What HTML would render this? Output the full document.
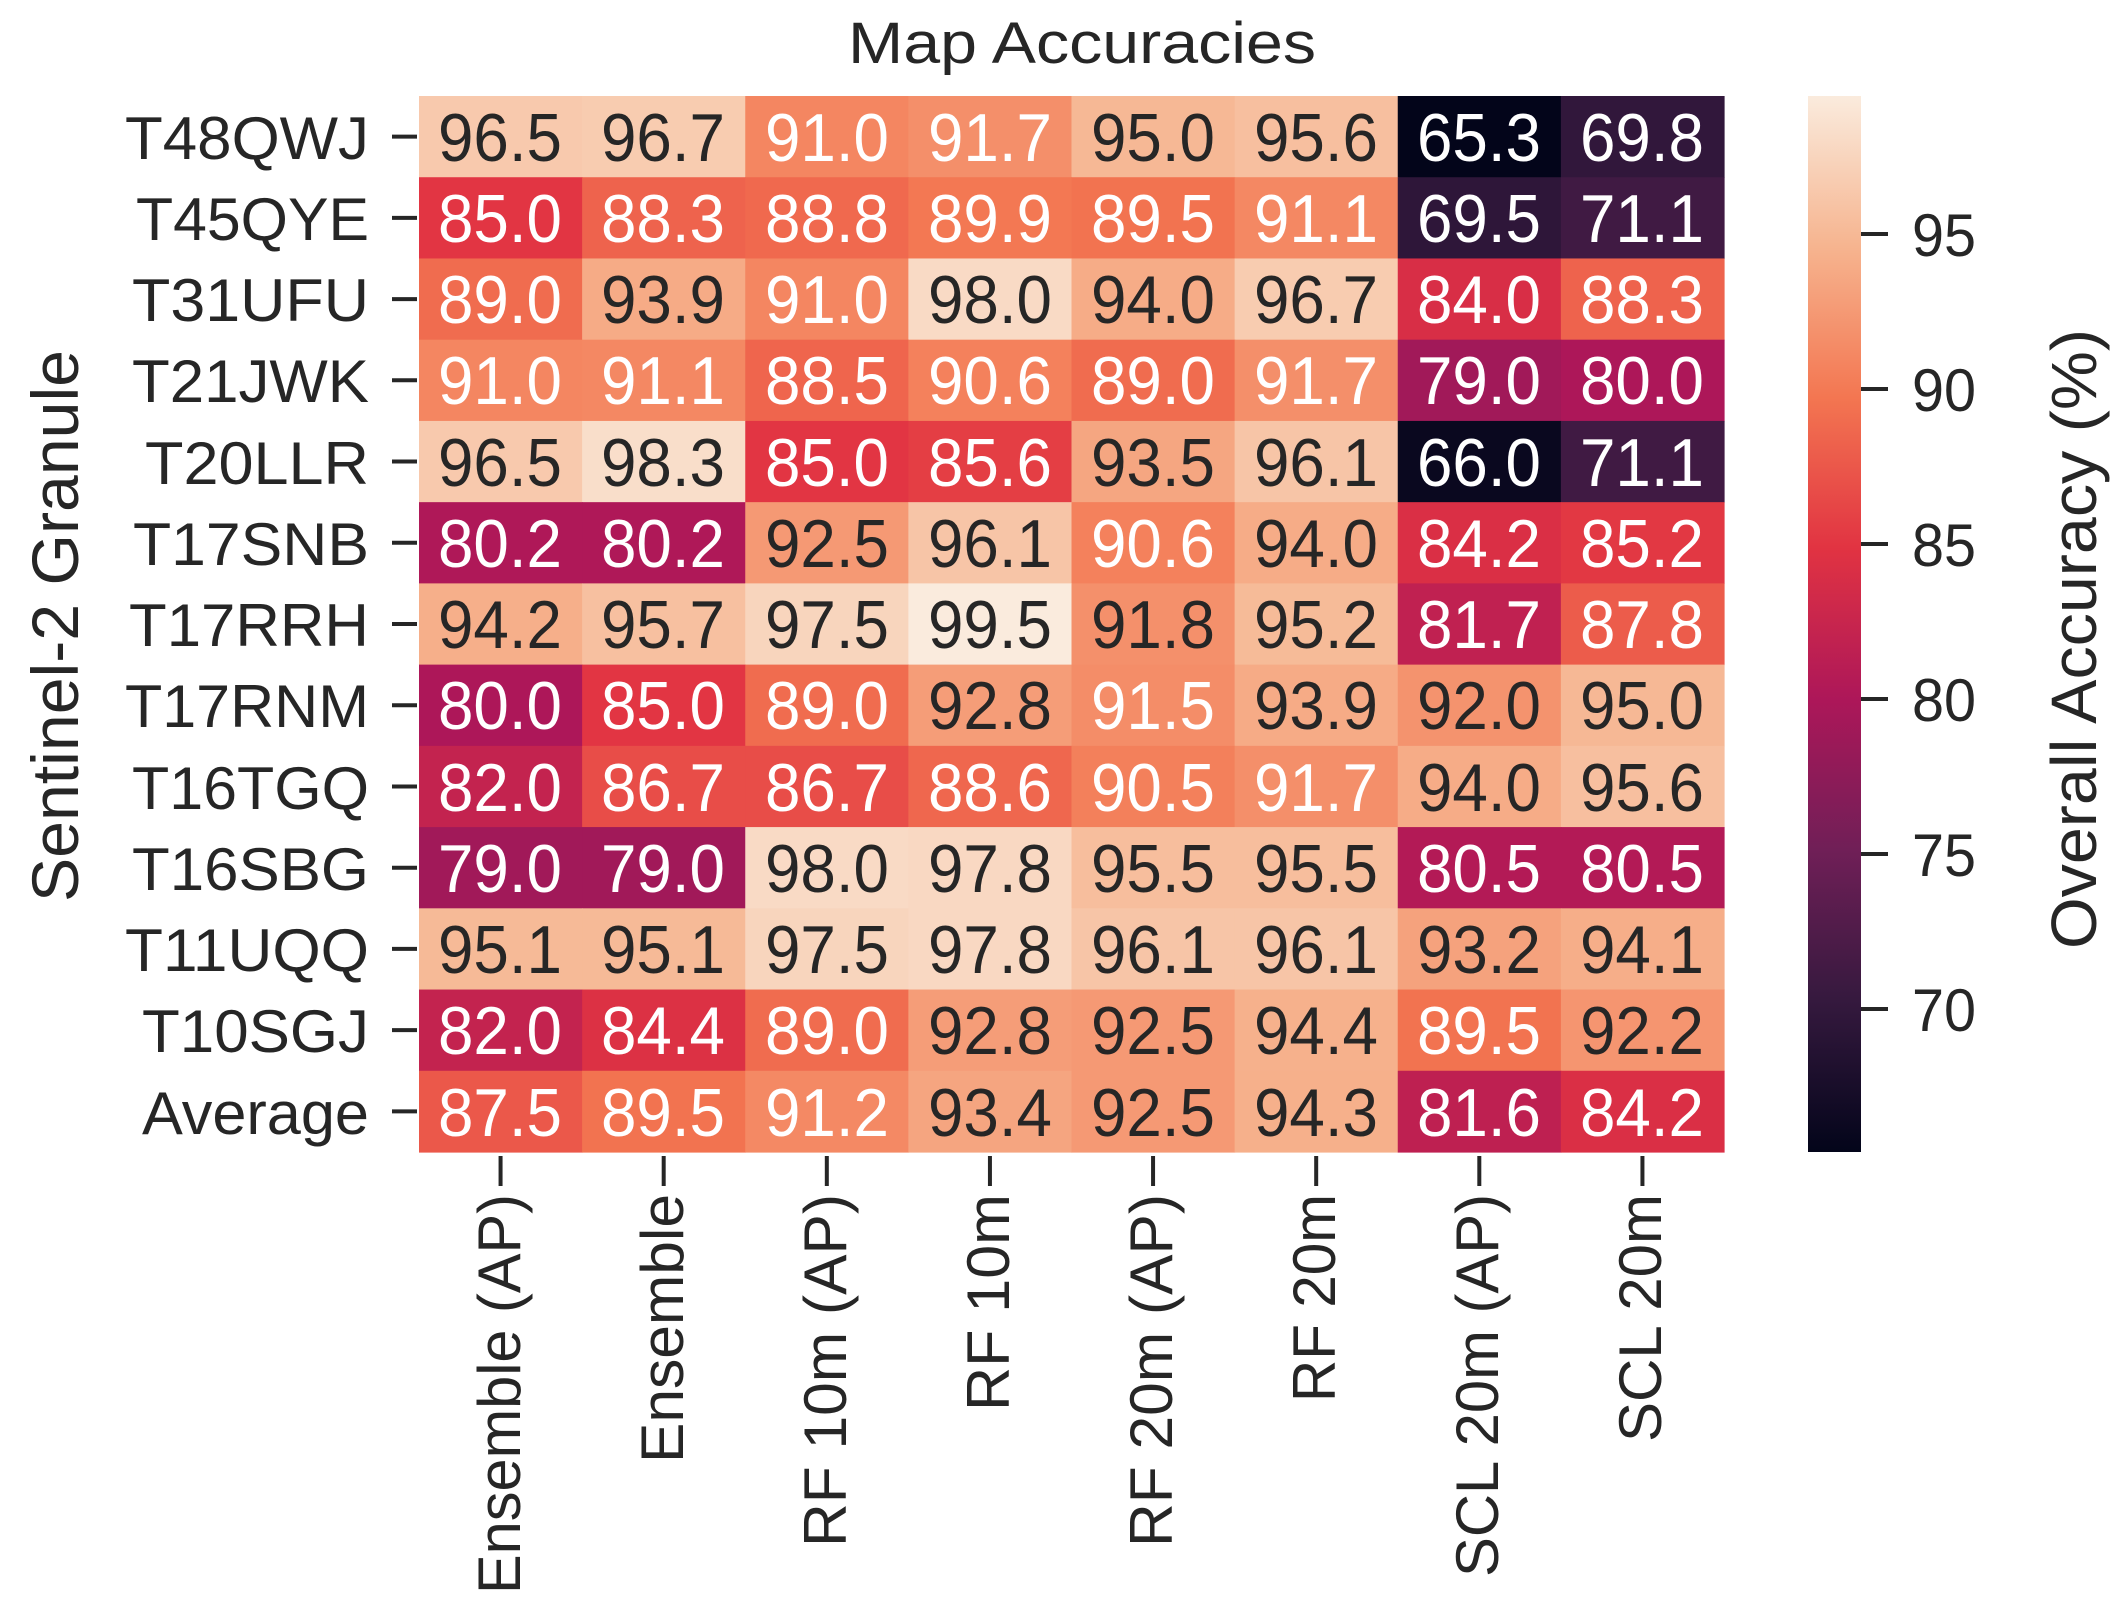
<!DOCTYPE html>
<html><head><meta charset="utf-8"><style>
html,body{margin:0;padding:0;background:#fff;}
svg{display:block;}
text{font-family:"Liberation Sans",Arial,sans-serif;fill:#262626;}
.k{fill:#262626}.w{fill:#ffffff}
</style></head><body>
<svg id="s" width="2123" height="1618" viewBox="0 0 2123 1618" xmlns="http://www.w3.org/2000/svg">
<defs>
<linearGradient id="cb" x1="0" y1="1" x2="0" y2="0">
<stop offset="0" stop-color="#03051a"/>
<stop offset="0.143" stop-color="#35193e"/>
<stop offset="0.286" stop-color="#701f57"/>
<stop offset="0.429" stop-color="#ad1759"/>
<stop offset="0.571" stop-color="#e13342"/>
<stop offset="0.714" stop-color="#f37651"/>
<stop offset="0.857" stop-color="#f6b48f"/>
<stop offset="1" stop-color="#faebdd"/>
</linearGradient>
</defs>
<g id="cells"></g>
<text x="1082" y="63" font-size="58" text-anchor="middle" textLength="468" lengthAdjust="spacingAndGlyphs">Map Accuracies</text>
<text transform="translate(78,626) rotate(-90)" font-size="66" text-anchor="middle" textLength="552" lengthAdjust="spacingAndGlyphs">Sentinel-2 Granule</text>
<text transform="translate(2096,639) rotate(-90)" font-size="64" text-anchor="middle" textLength="620" lengthAdjust="spacingAndGlyphs">Overall Accuracy (%)</text>
<rect x="1808" y="96" width="53" height="1056" fill="url(#cb)"/>
<g stroke="#262626" stroke-width="4">
<line x1="1861" y1="234" x2="1888" y2="234"/><line x1="1861" y1="389" x2="1888" y2="389"/><line x1="1861" y1="544" x2="1888" y2="544"/><line x1="1861" y1="699" x2="1888" y2="699"/><line x1="1861" y1="854" x2="1888" y2="854"/><line x1="1861" y1="1009" x2="1888" y2="1009"/>
</g>
<g font-size="60">
<text x="1912" y="256" textLength="64" lengthAdjust="spacingAndGlyphs">95</text><text x="1912" y="411" textLength="64" lengthAdjust="spacingAndGlyphs">90</text><text x="1912" y="566" textLength="64" lengthAdjust="spacingAndGlyphs">85</text><text x="1912" y="721" textLength="64" lengthAdjust="spacingAndGlyphs">80</text><text x="1912" y="876" textLength="64" lengthAdjust="spacingAndGlyphs">75</text><text x="1912" y="1031" textLength="64" lengthAdjust="spacingAndGlyphs">70</text>
</g>
<g id="ticks" stroke="#262626" stroke-width="4"></g>
<g font-size="60" text-anchor="end">
<text x="369" y="159" textLength="244" lengthAdjust="spacingAndGlyphs">T48QWJ</text>
<text x="369" y="240" textLength="233" lengthAdjust="spacingAndGlyphs">T45QYE</text>
<text x="369" y="321" textLength="237" lengthAdjust="spacingAndGlyphs">T31UFU</text>
<text x="369" y="402" textLength="237" lengthAdjust="spacingAndGlyphs">T21JWK</text>
<text x="369" y="484" textLength="224" lengthAdjust="spacingAndGlyphs">T20LLR</text>
<text x="369" y="565" textLength="236" lengthAdjust="spacingAndGlyphs">T17SNB</text>
<text x="369" y="646" textLength="240" lengthAdjust="spacingAndGlyphs">T17RRH</text>
<text x="369" y="727" textLength="244" lengthAdjust="spacingAndGlyphs">T17RNM</text>
<text x="369" y="809" textLength="237" lengthAdjust="spacingAndGlyphs">T16TGQ</text>
<text x="369" y="890" textLength="237" lengthAdjust="spacingAndGlyphs">T16SBG</text>
<text x="369" y="971" textLength="244" lengthAdjust="spacingAndGlyphs">T11UQQ</text>
<text x="369" y="1052" textLength="227" lengthAdjust="spacingAndGlyphs">T10SGJ</text>
<text x="369" y="1134" textLength="227" lengthAdjust="spacingAndGlyphs">Average</text>
</g>
<g font-size="60" text-anchor="end">
<text transform="translate(520,1194) rotate(-90)" textLength="400" lengthAdjust="spacingAndGlyphs">Ensemble (AP)</text>
<text transform="translate(683,1194) rotate(-90)" textLength="269" lengthAdjust="spacingAndGlyphs">Ensemble</text>
<text transform="translate(846,1194) rotate(-90)" textLength="353" lengthAdjust="spacingAndGlyphs">RF 10m (AP)</text>
<text transform="translate(1009,1194) rotate(-90)" textLength="217" lengthAdjust="spacingAndGlyphs">RF 10m</text>
<text transform="translate(1172,1194) rotate(-90)" textLength="353" lengthAdjust="spacingAndGlyphs">RF 20m (AP)</text>
<text transform="translate(1335,1194) rotate(-90)" textLength="208" lengthAdjust="spacingAndGlyphs">RF 20m</text>
<text transform="translate(1498,1194) rotate(-90)" textLength="383" lengthAdjust="spacingAndGlyphs">SCL 20m (AP)</text>
<text transform="translate(1661,1194) rotate(-90)" textLength="248" lengthAdjust="spacingAndGlyphs">SCL 20m</text>
</g>
<g font-size="68" text-anchor="middle" transform="translate(0,2)">
<text x="500" y="159" class="k" textLength="124" lengthAdjust="spacingAndGlyphs">96.5</text><text x="663" y="159" class="k" textLength="124" lengthAdjust="spacingAndGlyphs">96.7</text><text x="827" y="159" class="w" textLength="124" lengthAdjust="spacingAndGlyphs">91.0</text><text x="990" y="159" class="w" textLength="124" lengthAdjust="spacingAndGlyphs">91.7</text><text x="1153" y="159" class="k" textLength="124" lengthAdjust="spacingAndGlyphs">95.0</text><text x="1316" y="159" class="k" textLength="124" lengthAdjust="spacingAndGlyphs">95.6</text><text x="1479" y="159" class="w" textLength="124" lengthAdjust="spacingAndGlyphs">65.3</text><text x="1642" y="159" class="w" textLength="124" lengthAdjust="spacingAndGlyphs">69.8</text>
<text x="500" y="240" class="w" textLength="124" lengthAdjust="spacingAndGlyphs">85.0</text><text x="663" y="240" class="w" textLength="124" lengthAdjust="spacingAndGlyphs">88.3</text><text x="827" y="240" class="w" textLength="124" lengthAdjust="spacingAndGlyphs">88.8</text><text x="990" y="240" class="w" textLength="124" lengthAdjust="spacingAndGlyphs">89.9</text><text x="1153" y="240" class="w" textLength="124" lengthAdjust="spacingAndGlyphs">89.5</text><text x="1316" y="240" class="w" textLength="124" lengthAdjust="spacingAndGlyphs">91.1</text><text x="1479" y="240" class="w" textLength="124" lengthAdjust="spacingAndGlyphs">69.5</text><text x="1642" y="240" class="w" textLength="124" lengthAdjust="spacingAndGlyphs">71.1</text>
<text x="500" y="321" class="w" textLength="124" lengthAdjust="spacingAndGlyphs">89.0</text><text x="663" y="321" class="k" textLength="124" lengthAdjust="spacingAndGlyphs">93.9</text><text x="827" y="321" class="w" textLength="124" lengthAdjust="spacingAndGlyphs">91.0</text><text x="990" y="321" class="k" textLength="124" lengthAdjust="spacingAndGlyphs">98.0</text><text x="1153" y="321" class="k" textLength="124" lengthAdjust="spacingAndGlyphs">94.0</text><text x="1316" y="321" class="k" textLength="124" lengthAdjust="spacingAndGlyphs">96.7</text><text x="1479" y="321" class="w" textLength="124" lengthAdjust="spacingAndGlyphs">84.0</text><text x="1642" y="321" class="w" textLength="124" lengthAdjust="spacingAndGlyphs">88.3</text>
<text x="500" y="402" class="w" textLength="124" lengthAdjust="spacingAndGlyphs">91.0</text><text x="663" y="402" class="w" textLength="124" lengthAdjust="spacingAndGlyphs">91.1</text><text x="827" y="402" class="w" textLength="124" lengthAdjust="spacingAndGlyphs">88.5</text><text x="990" y="402" class="w" textLength="124" lengthAdjust="spacingAndGlyphs">90.6</text><text x="1153" y="402" class="w" textLength="124" lengthAdjust="spacingAndGlyphs">89.0</text><text x="1316" y="402" class="w" textLength="124" lengthAdjust="spacingAndGlyphs">91.7</text><text x="1479" y="402" class="w" textLength="124" lengthAdjust="spacingAndGlyphs">79.0</text><text x="1642" y="402" class="w" textLength="124" lengthAdjust="spacingAndGlyphs">80.0</text>
<text x="500" y="484" class="k" textLength="124" lengthAdjust="spacingAndGlyphs">96.5</text><text x="663" y="484" class="k" textLength="124" lengthAdjust="spacingAndGlyphs">98.3</text><text x="827" y="484" class="w" textLength="124" lengthAdjust="spacingAndGlyphs">85.0</text><text x="990" y="484" class="w" textLength="124" lengthAdjust="spacingAndGlyphs">85.6</text><text x="1153" y="484" class="k" textLength="124" lengthAdjust="spacingAndGlyphs">93.5</text><text x="1316" y="484" class="k" textLength="124" lengthAdjust="spacingAndGlyphs">96.1</text><text x="1479" y="484" class="w" textLength="124" lengthAdjust="spacingAndGlyphs">66.0</text><text x="1642" y="484" class="w" textLength="124" lengthAdjust="spacingAndGlyphs">71.1</text>
<text x="500" y="565" class="w" textLength="124" lengthAdjust="spacingAndGlyphs">80.2</text><text x="663" y="565" class="w" textLength="124" lengthAdjust="spacingAndGlyphs">80.2</text><text x="827" y="565" class="k" textLength="124" lengthAdjust="spacingAndGlyphs">92.5</text><text x="990" y="565" class="k" textLength="124" lengthAdjust="spacingAndGlyphs">96.1</text><text x="1153" y="565" class="w" textLength="124" lengthAdjust="spacingAndGlyphs">90.6</text><text x="1316" y="565" class="k" textLength="124" lengthAdjust="spacingAndGlyphs">94.0</text><text x="1479" y="565" class="w" textLength="124" lengthAdjust="spacingAndGlyphs">84.2</text><text x="1642" y="565" class="w" textLength="124" lengthAdjust="spacingAndGlyphs">85.2</text>
<text x="500" y="646" class="k" textLength="124" lengthAdjust="spacingAndGlyphs">94.2</text><text x="663" y="646" class="k" textLength="124" lengthAdjust="spacingAndGlyphs">95.7</text><text x="827" y="646" class="k" textLength="124" lengthAdjust="spacingAndGlyphs">97.5</text><text x="990" y="646" class="k" textLength="124" lengthAdjust="spacingAndGlyphs">99.5</text><text x="1153" y="646" class="k" textLength="124" lengthAdjust="spacingAndGlyphs">91.8</text><text x="1316" y="646" class="k" textLength="124" lengthAdjust="spacingAndGlyphs">95.2</text><text x="1479" y="646" class="w" textLength="124" lengthAdjust="spacingAndGlyphs">81.7</text><text x="1642" y="646" class="w" textLength="124" lengthAdjust="spacingAndGlyphs">87.8</text>
<text x="500" y="727" class="w" textLength="124" lengthAdjust="spacingAndGlyphs">80.0</text><text x="663" y="727" class="w" textLength="124" lengthAdjust="spacingAndGlyphs">85.0</text><text x="827" y="727" class="w" textLength="124" lengthAdjust="spacingAndGlyphs">89.0</text><text x="990" y="727" class="k" textLength="124" lengthAdjust="spacingAndGlyphs">92.8</text><text x="1153" y="727" class="w" textLength="124" lengthAdjust="spacingAndGlyphs">91.5</text><text x="1316" y="727" class="k" textLength="124" lengthAdjust="spacingAndGlyphs">93.9</text><text x="1479" y="727" class="k" textLength="124" lengthAdjust="spacingAndGlyphs">92.0</text><text x="1642" y="727" class="k" textLength="124" lengthAdjust="spacingAndGlyphs">95.0</text>
<text x="500" y="809" class="w" textLength="124" lengthAdjust="spacingAndGlyphs">82.0</text><text x="663" y="809" class="w" textLength="124" lengthAdjust="spacingAndGlyphs">86.7</text><text x="827" y="809" class="w" textLength="124" lengthAdjust="spacingAndGlyphs">86.7</text><text x="990" y="809" class="w" textLength="124" lengthAdjust="spacingAndGlyphs">88.6</text><text x="1153" y="809" class="w" textLength="124" lengthAdjust="spacingAndGlyphs">90.5</text><text x="1316" y="809" class="w" textLength="124" lengthAdjust="spacingAndGlyphs">91.7</text><text x="1479" y="809" class="k" textLength="124" lengthAdjust="spacingAndGlyphs">94.0</text><text x="1642" y="809" class="k" textLength="124" lengthAdjust="spacingAndGlyphs">95.6</text>
<text x="500" y="890" class="w" textLength="124" lengthAdjust="spacingAndGlyphs">79.0</text><text x="663" y="890" class="w" textLength="124" lengthAdjust="spacingAndGlyphs">79.0</text><text x="827" y="890" class="k" textLength="124" lengthAdjust="spacingAndGlyphs">98.0</text><text x="990" y="890" class="k" textLength="124" lengthAdjust="spacingAndGlyphs">97.8</text><text x="1153" y="890" class="k" textLength="124" lengthAdjust="spacingAndGlyphs">95.5</text><text x="1316" y="890" class="k" textLength="124" lengthAdjust="spacingAndGlyphs">95.5</text><text x="1479" y="890" class="w" textLength="124" lengthAdjust="spacingAndGlyphs">80.5</text><text x="1642" y="890" class="w" textLength="124" lengthAdjust="spacingAndGlyphs">80.5</text>
<text x="500" y="971" class="k" textLength="124" lengthAdjust="spacingAndGlyphs">95.1</text><text x="663" y="971" class="k" textLength="124" lengthAdjust="spacingAndGlyphs">95.1</text><text x="827" y="971" class="k" textLength="124" lengthAdjust="spacingAndGlyphs">97.5</text><text x="990" y="971" class="k" textLength="124" lengthAdjust="spacingAndGlyphs">97.8</text><text x="1153" y="971" class="k" textLength="124" lengthAdjust="spacingAndGlyphs">96.1</text><text x="1316" y="971" class="k" textLength="124" lengthAdjust="spacingAndGlyphs">96.1</text><text x="1479" y="971" class="k" textLength="124" lengthAdjust="spacingAndGlyphs">93.2</text><text x="1642" y="971" class="k" textLength="124" lengthAdjust="spacingAndGlyphs">94.1</text>
<text x="500" y="1052" class="w" textLength="124" lengthAdjust="spacingAndGlyphs">82.0</text><text x="663" y="1052" class="w" textLength="124" lengthAdjust="spacingAndGlyphs">84.4</text><text x="827" y="1052" class="w" textLength="124" lengthAdjust="spacingAndGlyphs">89.0</text><text x="990" y="1052" class="k" textLength="124" lengthAdjust="spacingAndGlyphs">92.8</text><text x="1153" y="1052" class="k" textLength="124" lengthAdjust="spacingAndGlyphs">92.5</text><text x="1316" y="1052" class="k" textLength="124" lengthAdjust="spacingAndGlyphs">94.4</text><text x="1479" y="1052" class="w" textLength="124" lengthAdjust="spacingAndGlyphs">89.5</text><text x="1642" y="1052" class="k" textLength="124" lengthAdjust="spacingAndGlyphs">92.2</text>
<text x="500" y="1134" class="w" textLength="124" lengthAdjust="spacingAndGlyphs">87.5</text><text x="663" y="1134" class="w" textLength="124" lengthAdjust="spacingAndGlyphs">89.5</text><text x="827" y="1134" class="w" textLength="124" lengthAdjust="spacingAndGlyphs">91.2</text><text x="990" y="1134" class="k" textLength="124" lengthAdjust="spacingAndGlyphs">93.4</text><text x="1153" y="1134" class="k" textLength="124" lengthAdjust="spacingAndGlyphs">92.5</text><text x="1316" y="1134" class="k" textLength="124" lengthAdjust="spacingAndGlyphs">94.3</text><text x="1479" y="1134" class="w" textLength="124" lengthAdjust="spacingAndGlyphs">81.6</text><text x="1642" y="1134" class="w" textLength="124" lengthAdjust="spacingAndGlyphs">84.2</text>
</g>
</svg>
<script>
(function(){
var V=[[96.5,96.7,91.0,91.7,95.0,95.6,65.3,69.8],[85.0,88.3,88.8,89.9,89.5,91.1,69.5,71.1],[89.0,93.9,91.0,98.0,94.0,96.7,84.0,88.3],[91.0,91.1,88.5,90.6,89.0,91.7,79.0,80.0],[96.5,98.3,85.0,85.6,93.5,96.1,66.0,71.1],[80.2,80.2,92.5,96.1,90.6,94.0,84.2,85.2],[94.2,95.7,97.5,99.5,91.8,95.2,81.7,87.8],[80.0,85.0,89.0,92.8,91.5,93.9,92.0,95.0],[82.0,86.7,86.7,88.6,90.5,91.7,94.0,95.6],[79.0,79.0,98.0,97.8,95.5,95.5,80.5,80.5],[95.1,95.1,97.5,97.8,96.1,96.1,93.2,94.1],[82.0,84.4,89.0,92.8,92.5,94.4,89.5,92.2],[87.5,89.5,91.2,93.4,92.5,94.3,81.6,84.2]];
var S=[[0,3,5,26],[0.143,0x35,0x19,0x3e],[0.286,0x70,0x1f,0x57],[0.429,0xad,0x17,0x59],[0.571,0xe1,0x33,0x42],[0.714,0xf3,0x76,0x51],[0.857,0xf6,0xb4,0x8f],[1,0xfa,0xeb,0xdd]];
function col(v){var t=(v-65.3)/(99.5-65.3);t=Math.max(0,Math.min(1,t));for(var i=0;i<S.length-1;i++){if(t<=S[i+1][0]){var f=(t-S[i][0])/(S[i+1][0]-S[i][0]);var c=[1,2,3].map(function(k){return Math.round(S[i][k]+f*(S[i+1][k]-S[i][k]));});return 'rgb('+c.join(',')+')';}}return 'rgb(250,235,221)';}
var ns='http://www.w3.org/2000/svg',g=document.getElementById('cells'),tk=document.getElementById('ticks');
var x0=419,y0=96,cw=1305/8,rh=1056/13;
for(var r=0;r<13;r++)for(var c=0;c<8;c++){var e=document.createElementNS(ns,'rect');e.setAttribute('x',x0+c*cw);e.setAttribute('y',y0+r*rh);e.setAttribute('width',cw+0.6);e.setAttribute('height',rh+0.6);e.setAttribute('fill',col(V[r][c]));g.appendChild(e);}
for(var r=0;r<13;r++){var l=document.createElementNS(ns,'line');var y=y0+(r+0.5)*rh;l.setAttribute('x1',392);l.setAttribute('x2',417);l.setAttribute('y1',y);l.setAttribute('y2',y);tk.appendChild(l);}
for(var c=0;c<8;c++){var l=document.createElementNS(ns,'line');var x=x0+(c+0.5)*cw;l.setAttribute('x1',x);l.setAttribute('x2',x);l.setAttribute('y1',1156);l.setAttribute('y2',1186);tk.appendChild(l);}
})();
</script>
</body></html>
